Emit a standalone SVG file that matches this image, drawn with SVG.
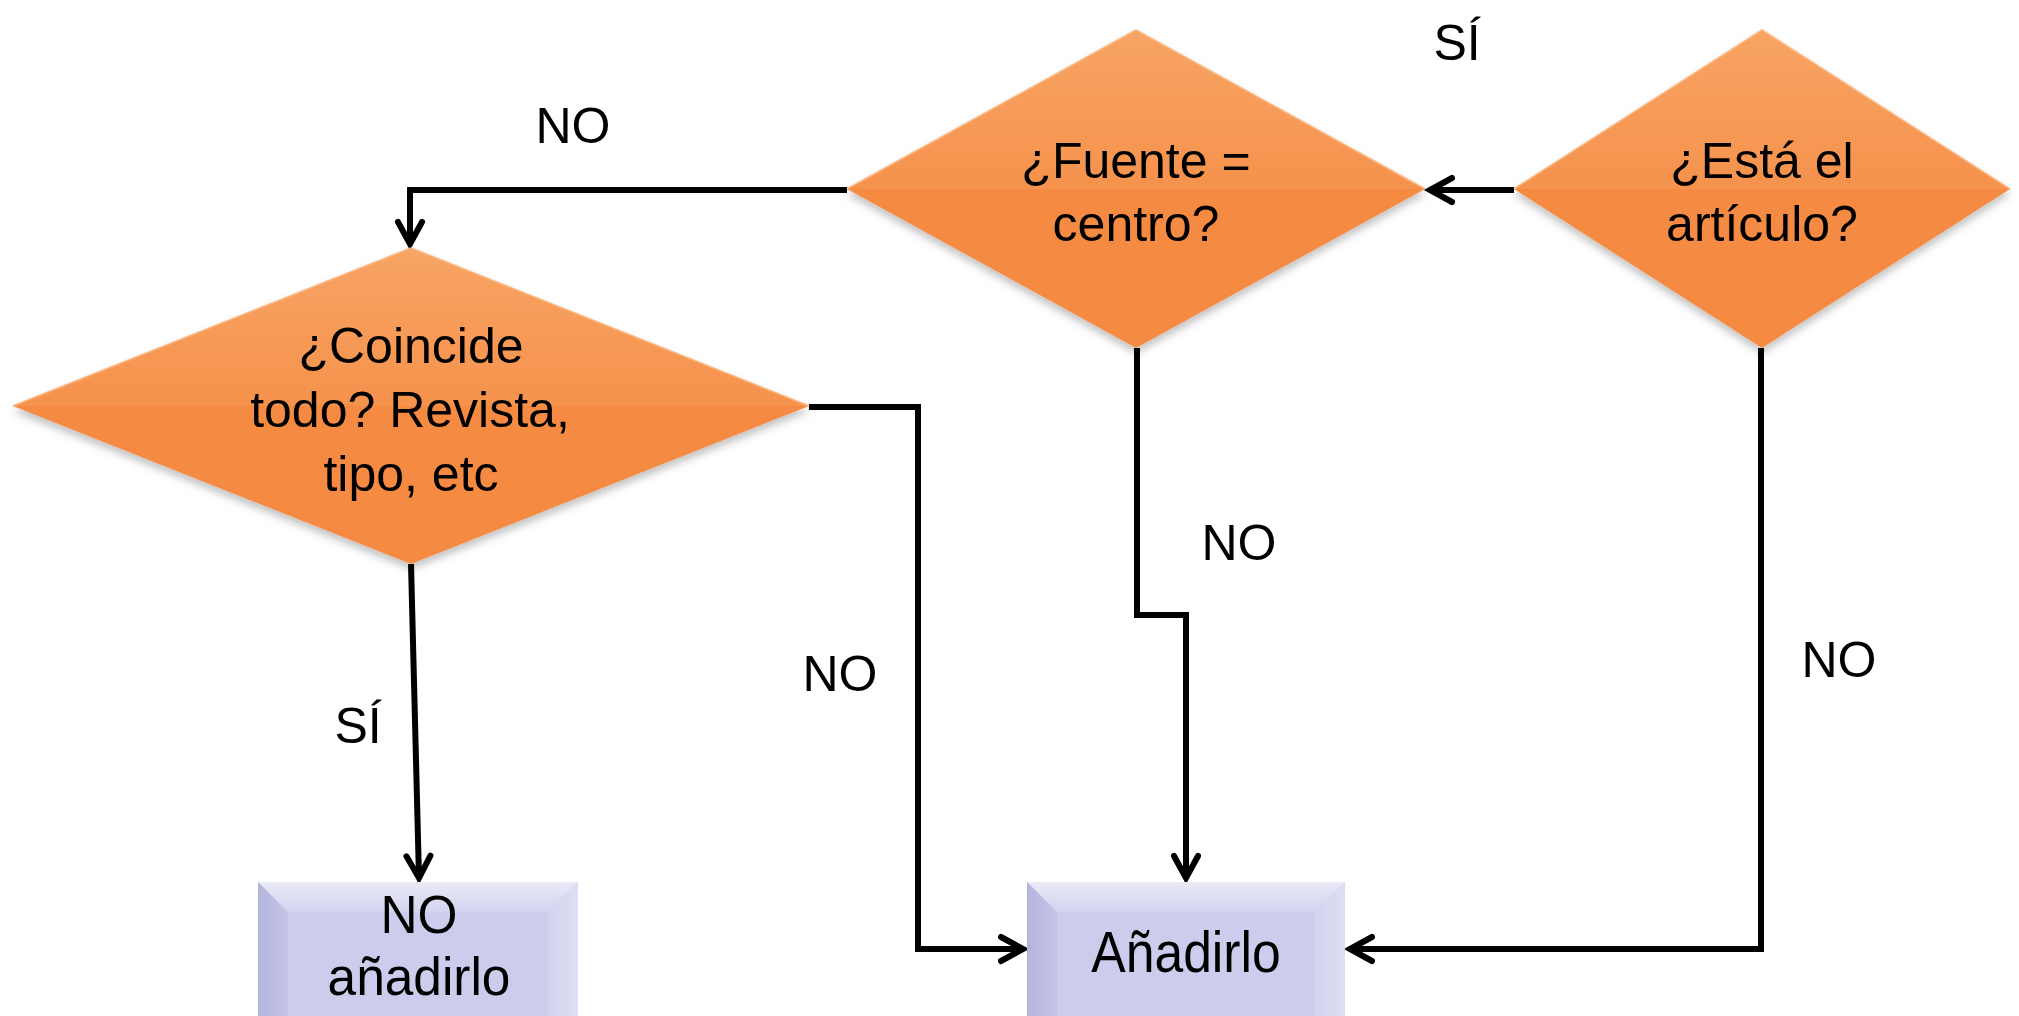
<svg xmlns="http://www.w3.org/2000/svg" width="2019" height="1016" viewBox="0 0 2019 1016">
<style>
text{font-family:"Liberation Sans",Arial,sans-serif;fill:#000;text-anchor:middle}
.dt{font-size:50px}
.lb{font-size:50px}
.bt{font-size:58px}
.bt2{font-size:53px}
.conn{fill:none;stroke:#000;stroke-width:6;stroke-linejoin:miter}
.dbase{fill:#F58A43}
.dtop{fill:url(#gTop)}
.dedge{fill:none;stroke:#F9B57C;stroke-width:2;opacity:0.7}
.bmain{fill:#CCCDEC}
.btop{fill:url(#gBTop)}
.bleft{fill:url(#gBLeft)}
.bright{fill:url(#gBRight)}
</style>
<defs>
<linearGradient id="gTop" x1="0" y1="0" x2="0" y2="1">
<stop offset="0" stop-color="#F8A464"/>
<stop offset="1" stop-color="#F5924C"/>
</linearGradient>
<linearGradient id="gBTop" x1="0" y1="0" x2="0" y2="1">
<stop offset="0" stop-color="#E9E9F7"/>
<stop offset="1" stop-color="#D3D4EF"/>
</linearGradient>
<linearGradient id="gBLeft" x1="0" y1="0" x2="1" y2="0">
<stop offset="0" stop-color="#B4B5DC"/>
<stop offset="1" stop-color="#C4C5E7"/>
</linearGradient>
<linearGradient id="gBRight" x1="0" y1="0" x2="1" y2="0">
<stop offset="0" stop-color="#D2D3EF"/>
<stop offset="1" stop-color="#DEDFF4"/>
</linearGradient>
<filter id="sh" x="-10%" y="-10%" width="120%" height="130%">
<feDropShadow dx="0" dy="5" stdDeviation="4" flood-color="#000" flood-opacity="0.25"/>
</filter>
<marker id="arr" markerUnits="userSpaceOnUse" viewBox="-30 -16 34 32" refX="0" refY="0" markerWidth="34" markerHeight="32" orient="auto" overflow="visible">
<path d="M-22,-12 L0,0 L-22,12" fill="none" stroke="#000" stroke-width="6" stroke-linecap="round" stroke-linejoin="miter"/>
</marker>
</defs>
<rect width="2019" height="1016" fill="#fff"/>

<g id="connectors">
<path class="conn" d="M1514,190 L1430,190" marker-end="url(#arr)"/>
<path class="conn" d="M847,190 L410,190 L410,244" marker-end="url(#arr)"/>
<path class="conn" d="M809,407 L918,407 L918,949 L1023,949" marker-end="url(#arr)"/>
<path class="conn" d="M1137,348 L1137,615 L1186,615 L1186,878" marker-end="url(#arr)"/>
<path class="conn" d="M1761,348 L1761,949 L1350,949" marker-end="url(#arr)"/>
<path class="conn" d="M411,564 L419,878" marker-end="url(#arr)"/>
</g>

<g id="coincide">
<polygon class="dbase" filter="url(#sh)" points="13,406 411,248 809,406 411,564"/>
<polygon class="dtop" points="13,406 411,248 809,406"/>
<polyline class="dedge" points="13,406 411,248 809,406"/>
<text class="dt" x="411" y="363">¿Coincide</text>
<text class="dt" x="410" y="427">todo? Revista,</text>
<text class="dt" x="411" y="491">tipo, etc</text>
</g>

<g id="fuente">
<polygon class="dbase" filter="url(#sh)" points="847,189 1136,30 1425,189 1136,348"/>
<polygon class="dtop" points="847,189 1136,30 1425,189"/>
<polyline class="dedge" points="847,189 1136,30 1425,189"/>
<text class="dt" x="1136" y="178">¿Fuente =</text>
<text class="dt" x="1136" y="241">centro?</text>
</g>

<g id="esta">
<polygon class="dbase" filter="url(#sh)" points="1514,189 1762,30 2010,189 1762,348"/>
<polygon class="dtop" points="1514,189 1762,30 2010,189"/>
<polyline class="dedge" points="1514,189 1762,30 2010,189"/>
<text class="dt" x="1762" y="178">¿Está el</text>
<text class="dt" x="1762" y="241">artículo?</text>
</g>

<g id="no-anadirlo">
<rect class="bmain" x="258" y="882" width="320" height="150"/>
<polygon class="btop" points="258,882 578,882 548,912 288,912"/>
<polygon class="bleft" points="258,882 288,912 288,1032 258,1032"/>
<polygon class="bright" points="578,882 548,912 548,1032 578,1032"/>
<text class="bt2" transform="translate(419,933) scale(0.97,1)">NO</text>
<text class="bt2" transform="translate(419,995) scale(0.97,1)">añadirlo</text>
</g>

<g id="anadirlo">
<rect class="bmain" x="1027" y="882" width="318" height="150"/>
<polygon class="btop" points="1027,882 1345,882 1315,912 1057,912"/>
<polygon class="bleft" points="1027,882 1057,912 1057,1032 1027,1032"/>
<polygon class="bright" points="1345,882 1315,912 1315,1032 1345,1032"/>
<text class="bt" transform="translate(1186,972) scale(0.89,1)">Añadirlo</text>
</g>

<g id="labels">
<text class="lb" x="1457" y="60">SÍ</text>
<text class="lb" x="573" y="143">NO</text>
<text class="lb" x="1239" y="560">NO</text>
<text class="lb" x="840" y="691">NO</text>
<text class="lb" x="1839" y="677">NO</text>
<text class="lb" x="358" y="743">SÍ</text>
</g>
</svg>
